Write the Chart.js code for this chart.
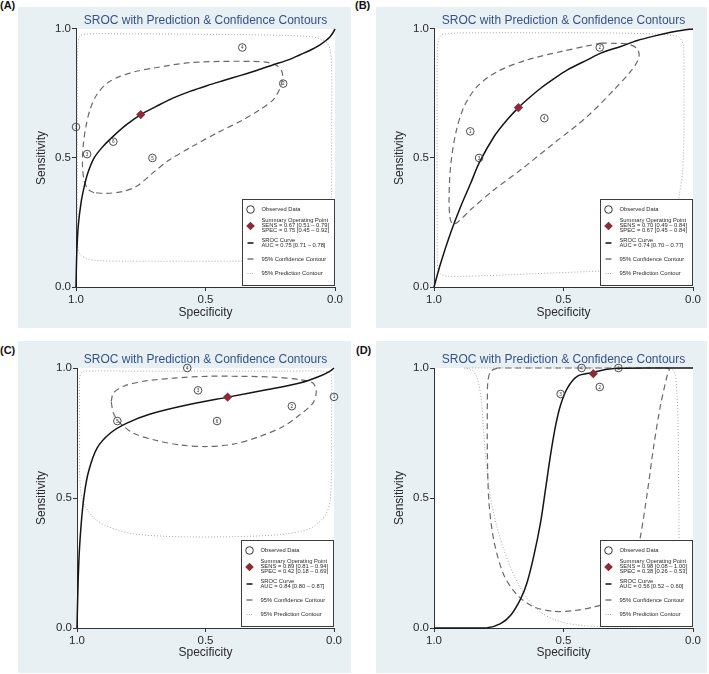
<!DOCTYPE html>
<html><head><meta charset="utf-8">
<script src="https://cdn.jsdelivr.net/npm/chart.js@4.4.1/dist/chart.umd.min.js"></script>
<style>
html,body{margin:0;padding:0;background:#fff;width:709px;height:674px;overflow:hidden}
.panel{position:absolute;background:#e8f0f4}
.lab{position:absolute;font:bold 11px "Liberation Sans",Arial,sans-serif;color:#111;line-height:11px}
canvas{display:block}
</style></head><body>
<div class="lab" style="left:0;top:0">(A)</div>
<div class="lab" style="left:355px;top:0">(B)</div>
<div class="lab" style="left:0;top:345px">(C)</div>
<div class="lab" style="left:356px;top:345px">(D)</div>
<div class="panel" style="left:18px;top:7px;width:333px;height:321px"><canvas id="cA" width="333" height="321"></canvas></div>
<div class="panel" style="left:376px;top:7px;width:331px;height:321px"><canvas id="cB" width="331" height="321"></canvas></div>
<div class="panel" style="left:18px;top:341px;width:333px;height:332px"><canvas id="cC" width="333" height="332"></canvas></div>
<div class="panel" style="left:376px;top:341px;width:331px;height:332px"><canvas id="cD" width="331" height="332"></canvas></div>
<script>
// ---------- text ----------
const TITLE = 'SROC with Prediction & Confidence Contours';
const X_LABEL = 'Specificity';
const Y_LABEL = 'Sensitivity';
const TICK_VALUES = [0, 0.5, 1];
const LEGEND_NAMES = ['Observed Data', 'Summary Operating Point', 'SROC Curve', '95% Confidence Contour', '95% Prediction Contour'];

// ---------- panel A ----------  points are [specificity, sensitivity]
const A_OBS = [[1.00,0.620],[0.957,0.515],[0.856,0.563],[0.705,0.500],[0.358,0.928],[0.200,0.788]];
const A_IDS = ['1','3','6','5','4','2'];
const A_SUMMARY = [[0.750,0.668]];
const A_STATS = ['SENS = 0.67 [0.51 \u2013 0.79]','SPEC = 0.75 [0.45 \u2013 0.92]','AUC = 0.75 [0.71 \u2013 0.78]'];
const A_SROC = [[1.000,0.000],[0.997,0.130],[0.991,0.240],[0.980,0.330],[0.968,0.390],[0.955,0.440],[0.930,0.500],[0.900,0.540],[0.869,0.572],[0.810,0.625],[0.750,0.668],[0.690,0.700],[0.624,0.733],[0.560,0.758],[0.495,0.780],[0.430,0.800],[0.367,0.819],[0.300,0.840],[0.238,0.861],[0.180,0.880],[0.135,0.900],[0.090,0.920],[0.058,0.938],[0.035,0.955],[0.019,0.970],[0.008,0.985],[0.000,1.000]];
const A_CONF = [[0.930,0.365],[0.955,0.380],[0.970,0.420],[0.975,0.480],[0.972,0.550],[0.962,0.620],[0.946,0.687],[0.920,0.745],[0.880,0.790],[0.830,0.816],[0.770,0.835],[0.702,0.848],[0.573,0.868],[0.444,0.874],[0.315,0.874],[0.260,0.870],[0.225,0.858],[0.205,0.835],[0.203,0.810],[0.212,0.771],[0.238,0.726],[0.290,0.687],[0.360,0.645],[0.450,0.600],[0.550,0.545],[0.637,0.494],[0.700,0.445],[0.766,0.390],[0.820,0.370],[0.880,0.363],[0.930,0.365]];
const A_PRED = [[0.995,0.200],[0.995,0.500],[0.995,0.800],[0.993,0.930],[0.985,0.972],[0.960,0.980],[0.800,0.981],[0.600,0.980],[0.400,0.978],[0.200,0.975],[0.100,0.970],[0.058,0.962],[0.030,0.945],[0.019,0.919],[0.013,0.850],[0.013,0.600],[0.013,0.350],[0.015,0.200],[0.030,0.130],[0.080,0.105],[0.200,0.100],[0.400,0.100],[0.600,0.100],[0.800,0.100],[0.907,0.102],[0.960,0.110],[0.985,0.128],[0.993,0.160],[0.995,0.200]];

// ---------- panel B ----------
const B_OBS = [[0.860,0.603],[0.826,0.500],[0.574,0.654],[0.360,0.928]];
const B_IDS = ['1','3','4','2'];
const B_SUMMARY = [[0.674,0.695]];
const B_STATS = ['SENS = 0.70 [0.49 \u2013 0.84]','SPEC = 0.67 [0.45 \u2013 0.84]','AUC = 0.74 [0.70 \u2013 0.77]'];
const B_SROC = [[1.000,0.000],[0.974,0.093],[0.936,0.209],[0.897,0.312],[0.858,0.403],[0.826,0.480],[0.768,0.583],[0.720,0.645],[0.674,0.695],[0.630,0.735],[0.588,0.770],[0.535,0.808],[0.485,0.841],[0.408,0.880],[0.356,0.906],[0.279,0.932],[0.215,0.955],[0.151,0.972],[0.086,0.987],[0.040,0.995],[0.000,1.000]];
const B_CONF = [[0.356,0.945],[0.300,0.944],[0.254,0.942],[0.217,0.925],[0.208,0.900],[0.215,0.874],[0.241,0.835],[0.305,0.764],[0.408,0.661],[0.537,0.557],[0.665,0.454],[0.768,0.377],[0.858,0.300],[0.910,0.250],[0.929,0.245],[0.938,0.267],[0.942,0.338],[0.936,0.467],[0.916,0.596],[0.884,0.699],[0.833,0.777],[0.755,0.835],[0.640,0.880],[0.511,0.912],[0.408,0.934],[0.356,0.945]];
const B_PRED = [[0.987,0.100],[0.988,0.400],[0.988,0.700],[0.987,0.900],[0.982,0.960],[0.965,0.980],[0.800,0.985],[0.600,0.985],[0.400,0.985],[0.200,0.982],[0.080,0.975],[0.054,0.968],[0.037,0.935],[0.035,0.800],[0.035,0.600],[0.040,0.450],[0.055,0.340],[0.070,0.200],[0.100,0.100],[0.200,0.070],[0.400,0.060],[0.600,0.052],[0.800,0.044],[0.950,0.042],[0.975,0.052],[0.985,0.070],[0.987,0.100]];

// ---------- panel C ----------
const C_OBS = [[0.571,1.000],[0.529,0.914],[0.000,0.889],[0.164,0.853],[0.843,0.796],[0.455,0.796]];
const C_IDS = ['4','3','1','2','5','6'];
const C_SUMMARY = [[0.414,0.888]];
const C_STATS = ['SENS = 0.89 [0.81 \u2013 0.94]','SPEC = 0.42 [0.18 \u2013 0.69]','AUC = 0.84 [0.80 \u2013 0.87]'];
const C_SROC = [[1.000,0.000],[0.996,0.165],[0.991,0.293],[0.983,0.409],[0.972,0.512],[0.955,0.602],[0.922,0.692],[0.871,0.749],[0.806,0.788],[0.715,0.823],[0.586,0.855],[0.414,0.888],[0.263,0.916],[0.133,0.942],[0.056,0.968],[0.017,0.987],[0.000,1.000]];
const C_CONF = [[0.867,0.871],[0.858,0.904],[0.819,0.930],[0.741,0.949],[0.625,0.961],[0.495,0.968],[0.366,0.968],[0.237,0.965],[0.133,0.955],[0.082,0.942],[0.069,0.910],[0.082,0.865],[0.133,0.820],[0.198,0.775],[0.288,0.737],[0.392,0.707],[0.495,0.698],[0.599,0.704],[0.702,0.724],[0.780,0.749],[0.832,0.788],[0.858,0.826],[0.867,0.871]];
const C_PRED = [[0.990,0.600],[0.990,0.800],[0.990,0.950],[0.985,0.980],[0.970,0.988],[0.800,0.988],[0.600,0.988],[0.400,0.988],[0.200,0.988],[0.050,0.988],[0.020,0.985],[0.010,0.970],[0.010,0.800],[0.010,0.600],[0.015,0.490],[0.030,0.440],[0.060,0.405],[0.100,0.380],[0.200,0.360],[0.400,0.351],[0.600,0.351],[0.780,0.362],[0.880,0.390],[0.930,0.420],[0.970,0.470],[0.985,0.520],[0.990,0.600]];

// ---------- panel D ----------
const D_OBS = [[0.430,1.000],[0.288,1.000],[0.360,0.927],[0.511,0.900]];
const D_IDS = ['4','1','2','3'];
const D_SUMMARY = [[0.385,0.978]];
const D_STATS = ['SENS = 0.98 [0.08 \u2013 1.00]','SPEC = 0.38 [0.26 \u2013 0.53]','AUC = 0.56 [0.52 \u2013 0.60]'];
const D_SROC = [[1.000,0.000],[0.900,0.000],[0.794,0.001],[0.743,0.017],[0.704,0.049],[0.665,0.113],[0.640,0.177],[0.614,0.280],[0.588,0.409],[0.569,0.537],[0.550,0.666],[0.530,0.781],[0.511,0.859],[0.485,0.923],[0.447,0.968],[0.385,0.983],[0.331,0.995],[0.279,0.999],[0.150,1.000],[0.000,1.000]];
const D_CONF = [[0.755,1.000],[0.781,0.987],[0.792,0.949],[0.794,0.871],[0.794,0.679],[0.788,0.486],[0.768,0.332],[0.730,0.203],[0.678,0.126],[0.614,0.081],[0.537,0.064],[0.459,0.067],[0.382,0.081],[0.305,0.107],[0.250,0.160],[0.228,0.229],[0.202,0.357],[0.176,0.524],[0.151,0.704],[0.125,0.859],[0.099,0.974],[0.092,0.996],[0.110,1.000],[0.279,1.000],[0.537,1.000],[0.755,1.000]];
const D_PRED = [[0.884,1.000],[0.860,0.995],[0.846,0.985],[0.830,0.950],[0.818,0.880],[0.810,0.780],[0.800,0.650],[0.785,0.520],[0.760,0.400],[0.730,0.300],[0.690,0.200],[0.640,0.113],[0.590,0.062],[0.530,0.030],[0.450,0.012],[0.350,0.005],[0.200,0.005],[0.100,0.010],[0.065,0.050],[0.057,0.200],[0.054,0.400],[0.056,0.600],[0.058,0.800],[0.062,0.900],[0.068,0.970],[0.080,0.995],[0.100,1.000],[0.300,1.000],[0.500,1.000],[0.700,1.000],[0.884,1.000]];

// ---------- drawing ----------
const FONT = '"Liberation Sans", Arial, Helvetica, sans-serif';
const TEXT_COL = '#2a2a2a';
const toPts = arr => arr.map(p => ({x: p[0], y: p[1]}));

const srocPlugin = {
  id: 'sroc',
  beforeDraw(chart) {
    const {ctx, chartArea: a} = chart;
    ctx.save();
    ctx.fillStyle = '#ffffff';
    ctx.fillRect(a.left, a.top, a.right - a.left, a.bottom - a.top);
    ctx.restore();
  },
  afterDatasetsDraw(chart, args, opts) {
    const ctx = chart.ctx;
    ctx.save();
    // study numbers inside observed circles
    const meta = chart.getDatasetMeta(0);
    ctx.font = '4.6px ' + FONT;
    ctx.fillStyle = '#333';
    ctx.textAlign = 'center';
    ctx.textBaseline = 'middle';
    meta.data.forEach((el, i) => ctx.fillText(opts.ids[i], el.x, el.y + 0.3));
    // legend box
    const a = chart.chartArea;
    const w = 93, h = 87;
    const x = Math.round(a.right - w), y = Math.round(a.bottom - h - 1);
    ctx.fillStyle = '#ffffff';
    ctx.fillRect(x, y, w, h);
    ctx.strokeStyle = '#3c3c3c';
    ctx.lineWidth = 1;
    ctx.strokeRect(x + 0.5, y + 0.5, w - 1, h - 1);
    const sx = x + 8.5, tx = x + 19.5;
    // circle
    ctx.beginPath(); ctx.arc(sx, y + 10.5, 3.8, 0, Math.PI * 2);
    ctx.strokeStyle = '#333'; ctx.lineWidth = 1; ctx.stroke();
    // diamond
    ctx.beginPath();
    ctx.moveTo(sx, y + 22.7); ctx.lineTo(sx + 4.3, y + 27); ctx.lineTo(sx, y + 31.3); ctx.lineTo(sx - 4.3, y + 27); ctx.closePath();
    ctx.fillStyle = '#8e2a36'; ctx.fill();
    // sroc line
    ctx.beginPath(); ctx.moveTo(x + 5.5, y + 44); ctx.lineTo(x + 11.5, y + 44);
    ctx.strokeStyle = '#111'; ctx.lineWidth = 1.5; ctx.stroke();
    // confidence
    ctx.beginPath(); ctx.moveTo(x + 5.5, y + 60); ctx.lineTo(x + 11.5, y + 60);
    ctx.strokeStyle = '#555'; ctx.lineWidth = 1.2; ctx.stroke();
    // prediction
    ctx.fillStyle = '#a8a8a8';
    for (let k = 0; k < 3; k++) ctx.fillRect(x + 5.5 + k * 2.3, y + 74, 1, 1);
    // texts
    ctx.fillStyle = TEXT_COL;
    ctx.font = '5.8px ' + FONT;
    ctx.textAlign = 'left';
    ctx.textBaseline = 'middle';
    ctx.fillText(LEGEND_NAMES[0], tx, y + 10.5);
    ctx.fillText(LEGEND_NAMES[1], tx, y + 21.8);
    ctx.fillText(opts.stats[0], tx, y + 26.6);
    ctx.fillText(opts.stats[1], tx, y + 31.4);
    ctx.fillText(LEGEND_NAMES[2], tx, y + 41.6);
    ctx.fillText(opts.stats[2], tx, y + 46.4);
    ctx.fillText(LEGEND_NAMES[3], tx, y + 60);
    ctx.fillText(LEGEND_NAMES[4], tx, y + 74.5);
    ctx.restore();
  }
};

function makeChart(id, P, obs, ids, summary, sroc, conf, pred, stats) {
  const tickFont = {family: FONT, size: 11.5, weight: 'normal'};
  const titleFont = {family: FONT, size: 12, weight: 'normal'};
  return new Chart(document.getElementById(id), {
    type: 'scatter',
    data: {
      datasets: [
        {data: toPts(obs), pointStyle: 'circle', pointRadius: 3.8, pointBorderWidth: 0.9,
         pointBorderColor: '#3a3a3a', pointBackgroundColor: 'rgba(255,255,255,0)', showLine: false, clip: false},
        {data: toPts(summary), pointStyle: 'rectRot', pointRadius: 4.6, pointBorderWidth: 0,
         pointBackgroundColor: '#8e2a36', pointBorderColor: '#8e2a36', showLine: false, clip: false},
        {data: toPts(sroc), showLine: true, borderColor: '#141414', borderWidth: 1.5, pointRadius: 0, tension: 0.3, fill: false, clip: 2},
        {data: toPts(conf), showLine: true, borderColor: '#6a6a6a', borderWidth: 1.2, borderDash: [6, 4], pointRadius: 0, tension: 0.3, fill: false, clip: 2},
        {data: toPts(pred), showLine: true, borderColor: '#a8a8a8', borderWidth: 1, borderDash: [1, 2], pointRadius: 0, tension: 0.3, fill: false, clip: 2}
      ]
    },
    options: {
      responsive: false,
      devicePixelRatio: 1,
      animation: false,
      events: [],
      layout: {padding: {left: 0, top: 0, right: P.pr, bottom: 0}},
      plugins: {
        legend: {display: false},
        tooltip: {enabled: false},
        title: {display: true, text: TITLE, color: '#34528a', font: titleFont,
                padding: {top: P.tpt, bottom: P.tpb}, fullSize: false},
        sroc: {ids: ids, stats: stats}
      },
      scales: {
        x: {
          type: 'linear', min: 0, max: 1, reverse: true,
          afterBuildTicks: s => { s.ticks = TICK_VALUES.map(v => ({value: v})); },
          ticks: {callback: v => Number(v).toFixed(1), font: tickFont, color: TEXT_COL, padding: 2, maxRotation: 0, autoSkip: false},
          grid: {drawOnChartArea: false, drawTicks: true, tickLength: 4, color: '#333', lineWidth: 1},
          border: {display: true, color: '#333', width: 1},
          title: {display: true, text: X_LABEL, font: titleFont, color: TEXT_COL, padding: {top: 0, bottom: P.xtpb}},
          afterFit: s => { s.height = P.xh; }
        },
        y: {
          type: 'linear', min: 0, max: 1,
          afterBuildTicks: s => { s.ticks = TICK_VALUES.map(v => ({value: v})); },
          ticks: {callback: v => Number(v).toFixed(1), font: tickFont, color: TEXT_COL, padding: 1, autoSkip: false},
          grid: {drawOnChartArea: false, drawTicks: true, tickLength: 4, color: '#333', lineWidth: 1},
          border: {display: true, color: '#333', width: 1},
          title: {display: true, text: Y_LABEL, font: titleFont, color: TEXT_COL, padding: {top: 16.8, bottom: 0}},
          afterFit: s => { s.width = P.yw; }
        }
      }
    },
    plugins: [srocPlugin]
  });
}

makeChart('cA', {yw: 58, pr: 16, tpt: 6.5, tpb: 1, xh: 41, xtpb: 7.8}, A_OBS, A_IDS, A_SUMMARY, A_SROC, A_CONF, A_PRED, A_STATS);
makeChart('cB', {yw: 58, pr: 14, tpt: 6.5, tpb: 1, xh: 41, xtpb: 7.8}, B_OBS, B_IDS, B_SUMMARY, B_SROC, B_CONF, B_PRED, B_STATS);
makeChart('cC', {yw: 59, pr: 17, tpt: 11.8, tpb: 0.8, xh: 45, xtpb: 12.8}, C_OBS, C_IDS, C_SUMMARY, C_SROC, C_CONF, C_PRED, C_STATS);
makeChart('cD', {yw: 58, pr: 14, tpt: 11.8, tpb: 0.8, xh: 45, xtpb: 12.8}, D_OBS, D_IDS, D_SUMMARY, D_SROC, D_CONF, D_PRED, D_STATS);
</script>
</body></html>
